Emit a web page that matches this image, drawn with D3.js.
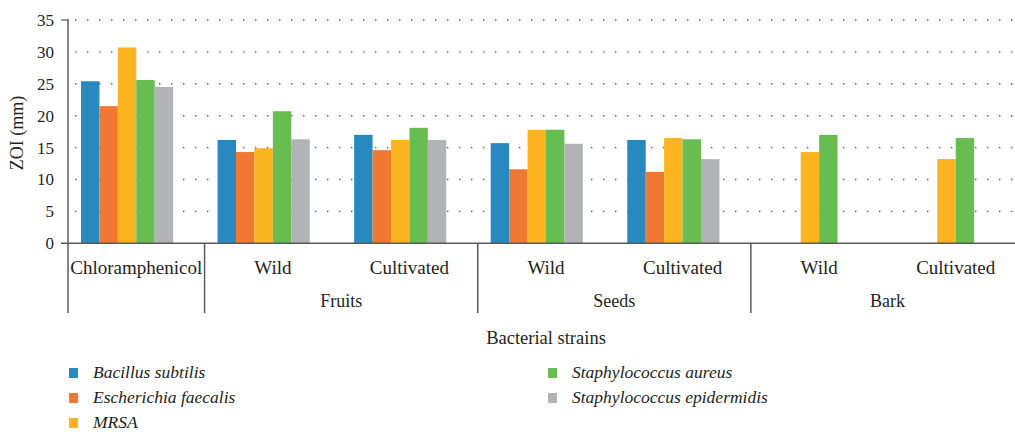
<!DOCTYPE html>
<html>
<head>
  <meta charset="UTF-8">
  <style>
    body {
      margin: 0;
      padding: 0;
      background: #fff;
    }
    svg {
      display: block;
    }
    svg text {
      font-family: "Liberation Serif", "Times New Roman", "DejaVu Serif", serif;
    }
  </style>
</head>
<body>
<svg></svg>
<script src="https://d3js.org/d3.v7.min.js"></script>
<script>
let width = 1015, height = 432;

// categories along the x axis
let categories = ["Chloramphenicol", "Fruits Wild", "Fruits Cultivated", "Seeds Wild", "Seeds Cultivated", "Bark Wild", "Bark Cultivated"];
let subLabels = ["Chloramphenicol", "Wild", "Cultivated", "Wild", "Cultivated", "Wild", "Cultivated"];
let groupNames = ["", "Fruits", "Seeds", "Bark"];
let groupSizes = [1, 2, 2, 2];

// series values, ZOI (mm)
let seriesNames = ["Bacillus subtilis", "Escherichia faecalis", "MRSA", "Staphylococcus aureus", "Staphylococcus epidermidis"];
let seriesColors = ["#2789bf", "#f07832", "#fbb31f", "#68bd51", "#b2b3b6"];
let bacillus = [25.4, 16.2, 17.0, 15.7, 16.2, null, null];
let escherichia = [21.5, 14.3, 14.6, 11.6, 11.2, null, null];
let mrsa = [30.7, 14.9, 16.2, 17.8, 16.5, 14.3, 13.2];
let aureus = [25.6, 20.7, 18.1, 17.8, 16.3, 17.0, 16.5];
let epidermidis = [24.5, 16.3, 16.2, 15.6, 13.2, null, null];
let yTicks = [0, 5, 10, 15, 20, 25, 30, 35];

let allSeries = [bacillus, escherichia, mrsa, aureus, epidermidis];

let svg = d3.select("svg").attr("width", width).attr("height", height);

let plotLeft = 68, plotRight = 1024, plotTop = 20, base = 243.3;
let serif = "Liberation Serif, Times New Roman, DejaVu Serif, serif";

let y = d3.scaleLinear().domain([0, 35]).range([base, plotTop]);
let x0 = d3.scaleBand().domain(categories).range([plotLeft, plotRight]);
// six slots per category (last one empty, as in the source)
let x1 = d3.scaleBand().domain(d3.range(6)).range([13, x0.bandwidth() - 13]);

// dotted grid
svg.append("g")
    .selectAll("line")
    .data(yTicks.filter(d => d > 0))
    .enter()
    .append("line")
    .attr("x1", plotLeft + 7)
    .attr("x2", width)
    .attr("y1", d => y(d))
    .attr("y2", d => y(d))
    .attr("stroke", "#555")
    .attr("stroke-width", 1.4)
    .attr("stroke-dasharray", "1.4 10.6");

// bars
let rows = [];
allSeries.forEach((vals, s) => {
    vals.forEach((v, i) => {
        if (v != null) rows.push({cat: categories[i], s: s, v: v});
    });
});

svg.append("g")
    .selectAll("rect")
    .data(rows)
    .enter()
    .append("rect")
    .attr("x", d => x0(d.cat) + x1(d.s))
    .attr("width", x1.bandwidth())
    .attr("y", d => y(d.v))
    .attr("height", d => base - y(d.v))
    .attr("fill", d => seriesColors[d.s]);

// y tick labels
svg.append("g")
    .selectAll("text")
    .data(yTicks)
    .enter()
    .append("text")
    .attr("x", 54)
    .attr("y", d => y(d))
    .attr("dy", "0.35em")
    .attr("text-anchor", "end")
    .attr("font-family", serif)
    .attr("font-size", 17)
    .attr("fill", "#231f20")
    .text(d => d);

// axes
let axisColor = "#5a5a5a";
svg.append("line")
    .attr("x1", plotLeft).attr("x2", plotLeft)
    .attr("y1", plotTop - 1).attr("y2", 313)
    .attr("stroke", axisColor).attr("stroke-width", 1.5);
svg.append("line")
    .attr("x1", 61).attr("x2", plotLeft)
    .attr("y1", plotTop).attr("y2", plotTop)
    .attr("stroke", axisColor).attr("stroke-width", 1.2);
svg.append("line")
    .attr("x1", 61).attr("x2", width)
    .attr("y1", base).attr("y2", base)
    .attr("stroke", axisColor).attr("stroke-width", 1.5);

// group separators and labels
let idx = 0;
groupSizes.forEach((n, g) => {
    let start = x0(categories[idx]);
    let end = x0(categories[idx + n - 1]) + x0.bandwidth();
    svg.append("line")
        .attr("x1", end).attr("x2", end)
        .attr("y1", base).attr("y2", 313)
        .attr("stroke", axisColor).attr("stroke-width", 1.5);
    if (groupNames[g]) {
        svg.append("text")
            .attr("x", (start + end) / 2)
            .attr("y", 307)
            .attr("text-anchor", "middle")
            .attr("font-family", serif)
            .attr("font-size", 18)
            .attr("fill", "#231f20")
            .text(groupNames[g]);
    }
    idx += n;
});

svg.append("g")
    .selectAll("text")
    .data(categories)
    .enter()
    .append("text")
    .attr("x", d => x0(d) + x0.bandwidth() / 2)
    .attr("y", 274)
    .attr("text-anchor", "middle")
    .attr("font-family", serif)
    .attr("font-size", 19)
    .attr("fill", "#231f20")
    .text((d, i) => subLabels[i]);

// axis titles
svg.append("text")
    .attr("x", 546)
    .attr("y", 344)
    .attr("text-anchor", "middle")
    .attr("font-family", serif)
    .attr("font-size", 18.5)
    .attr("fill", "#231f20")
    .text("Bacterial strains");

svg.append("text")
    .attr("transform", "translate(23,133) rotate(-90)")
    .attr("text-anchor", "middle")
    .attr("font-family", serif)
    .attr("font-size", 18)
    .attr("fill", "#231f20")
    .text("ZOI (mm)");

// legend
let legendPos = [[69, 373], [69, 398], [69, 423], [548, 373], [548, 398]];
let legend = svg.append("g")
    .selectAll("g")
    .data(seriesNames)
    .enter()
    .append("g")
    .attr("transform", (d, i) => "translate(" + legendPos[i][0] + "," + legendPos[i][1] + ")");

legend.append("rect")
    .attr("x", 0).attr("y", -5)
    .attr("width", 9).attr("height", 10)
    .attr("fill", (d, i) => seriesColors[i]);

legend.append("text")
    .attr("x", 24)
    .attr("y", 5)
    .attr("font-family", serif)
    .attr("font-size", 17.5)
    .attr("font-style", "italic")
    .attr("fill", "#231f20")
    .text(d => d);
</script>
</body>
</html>
